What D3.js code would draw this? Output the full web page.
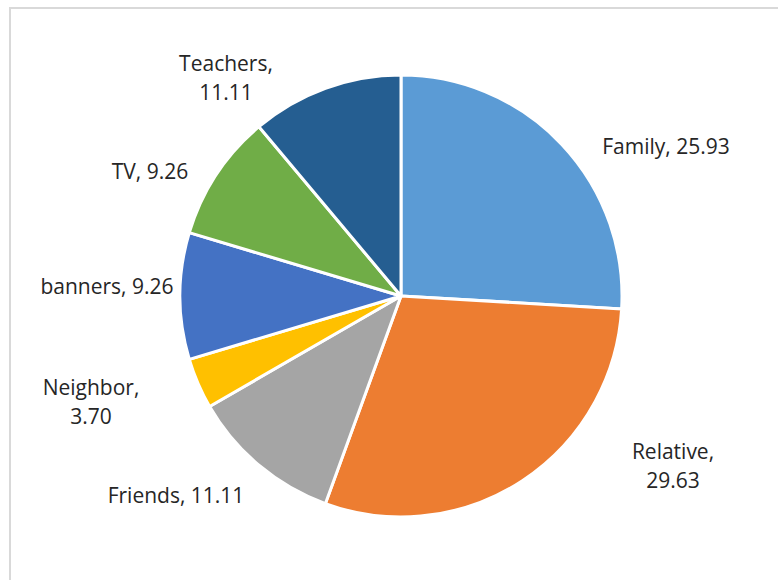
<!DOCTYPE html>
<html>
<head>
<meta charset="utf-8">
<script src="https://cdn.jsdelivr.net/npm/d3@7"></script>
<style>
  html, body { margin: 0; padding: 0; background: #ffffff; }
  svg { display: block; }
</style>
</head>
<body>
<svg id="chart" width="778" height="580"></svg>
<script>
// Source of information, share in percent
const categories = ["Family", "Relative", "Friends", "Neighbor", "banners", "TV", "Teachers"];
const shares = [25.93, 29.63, 11.11, 3.70, 9.26, 9.26, 11.11];
const sliceColors = ["#5B9BD5", "#ED7D31", "#A5A5A5", "#FFC000", "#4472C4", "#70AD47", "#255E91"];

// Label text lines and their placement (centre x, first baseline) relative to the pie centre
const labelLines = {
  Family:   ["Family, 25.93"],
  Relative: ["Relative,", "29.63"],
  Friends:  ["Friends, 11.11"],
  Neighbor: ["Neighbor,", "3.70"],
  banners:  ["banners, 9.26"],
  TV:       ["TV, 9.26"],
  Teachers: ["Teachers,", "11.11"]
};
const labelSpot = {
  Family:   [265, -142],
  Relative: [272, 163],
  Friends:  [-225, 207],
  Neighbor: [-310, 99],
  banners:  [-294, -2],
  TV:       [-251, -117],
  Teachers: [-175, -225]
};

const svg = d3.select("#chart");
const W = 778, H = 580;
const cx = 401, cy = 296, radius = 221;

// Chart area frame
svg.append("rect")
  .attr("x", 10).attr("y", 8)
  .attr("width", W + 20).attr("height", H + 20)
  .attr("fill", "#ffffff")
  .attr("stroke", "#d9d9d9")
  .attr("stroke-width", 2);

const data = categories.map((c, i) => ({ name: c, value: shares[i] }));
const color = d3.scaleOrdinal().domain(categories).range(sliceColors);

const pie = d3.pie().value(d => d.value).sort(null);
const arc = d3.arc().innerRadius(0).outerRadius(radius);

const g = svg.append("g").attr("transform", `translate(${cx},${cy})`);

g.selectAll("path.slice")
  .data(pie(data))
  .join("path")
  .attr("class", "slice")
  .attr("d", arc)
  .attr("fill", d => color(d.data.name))
  .attr("stroke", "#ffffff")
  .attr("stroke-width", 3)
  .attr("stroke-linejoin", "round");

const labels = g.selectAll("text.lbl")
  .data(pie(data))
  .join("text")
  .attr("class", "lbl")
  .attr("x", d => labelSpot[d.data.name][0])
  .attr("y", d => labelSpot[d.data.name][1])
  .attr("text-anchor", "middle")
  .attr("font-family", "'Open Sans', 'Noto Sans', sans-serif")
  .attr("font-size", 21)
  .attr("fill", "#262626");

labels.each(function(d) {
  const t = d3.select(this);
  labelLines[d.data.name].forEach((line, i) => {
    t.append("tspan")
      .attr("x", labelSpot[d.data.name][0])
      .attr("dy", i === 0 ? 0 : 29)
      .text(line);
  });
});
</script>
</body>
</html>
